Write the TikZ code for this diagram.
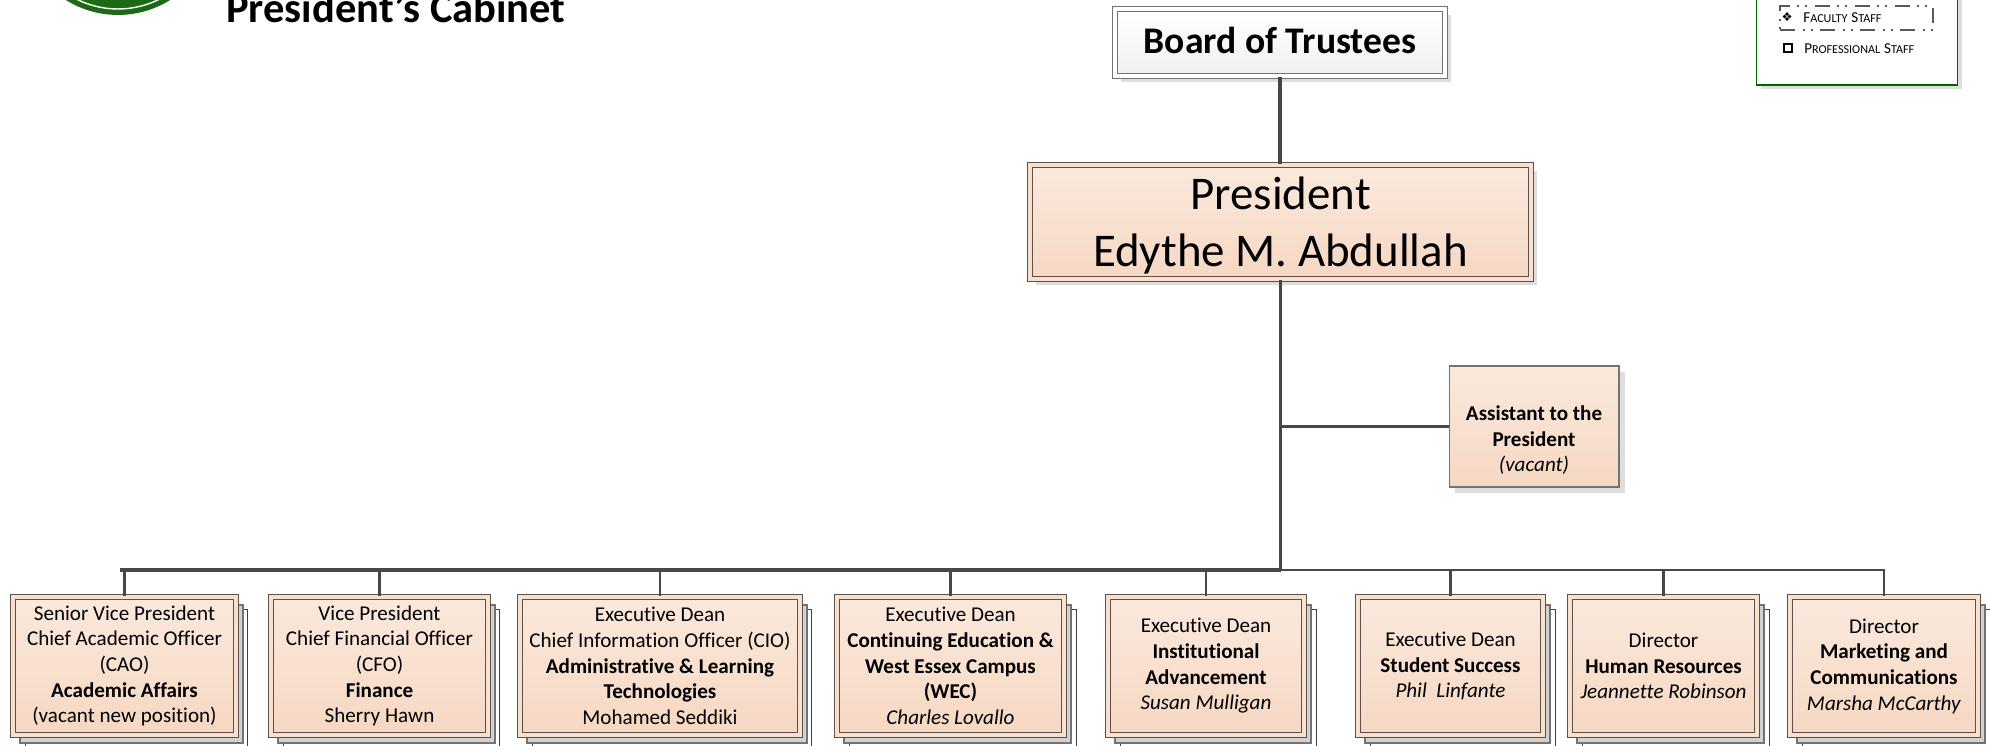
\documentclass[tikz,border=0pt]{standalone}
\usepackage{fontspec}
\setmainfont{Carlito}[Ligatures={ResetAll,NoCommon}]
\usepackage{xcolor}
\usetikzlibrary{shadows,positioning}
\definecolor{unittop}{HTML}{FAE9DD}
\definecolor{unitbot}{HTML}{F6D7C2}
\definecolor{unitline}{HTML}{5F504A}
\definecolor{wirecol}{HTML}{474747}
\definecolor{sealgreen}{HTML}{1C6B14}
\newcommand{\capsmall}[2]{{\fontsize{8.6}{10}\selectfont #1}{\fontsize{6.9}{10}\selectfont #2}}
\tikzset{wire/.style={draw=wirecol,line width=1.5pt}}
\tikzset{mainwire/.style={draw=wirecol,line width=1.9pt}}
\tikzset{softshadow/.style={copy shadow={shadow xshift=3.6pt,shadow yshift=-3.6pt,draw=none,fill=black!13}}}
\tikzset{stacked/.style={copy shadow={shadow xshift=6.8pt,shadow yshift=-6.8pt,draw=black!75,fill=white,line width=0.5pt},
    copy shadow={shadow xshift=4pt,shadow yshift=-4.5pt,draw=black!55,fill=black!18,line width=0.7pt}}}
\tikzset{framed/.style={rectangle,draw=unitline,line width=0.75pt,double=unittop!50!unitbot,double distance=2pt,
    top color=unittop,bottom color=unitbot,align=center,inner sep=0pt}}
\tikzset{unitbox/.style={framed,stacked,minimum height=2.76cm,font=\fontsize{12}{14.6}\selectfont,
    execute at begin node=\rule{0pt}{10.5pt}}}
\tikzset{legendtext/.style={anchor=west,inner sep=0pt}}

\begin{document}
\begin{tikzpicture}[x=0.02cm,y=-0.02cm]
    \useasboundingbox (0,0) rectangle (1990,746);

    % seal and title
    \node[circle,fill=sealgreen,minimum size=3.92cm,inner sep=0pt] (seal) at (118,-83) {};
    \node[circle,draw=white,line width=0.8pt,minimum size=3.68cm,inner sep=0pt] (sealring) at (118,-83) {};
    \node[anchor=base west,inner sep=0pt,font=\fontsize{24.2}{28}\selectfont\bfseries] (title) at (226,23) {President's Cabinet};

    % legend
    \node[draw=green!40!black,fill=white,line width=0.6pt,copy shadow={shadow xshift=2.5pt,shadow yshift=-2.5pt,draw=none,fill=black!13},
        minimum width=4.02cm,minimum height=2.2cm,inner sep=0pt] (legend) at (1857,30) {};
    \node[draw=black!65,line width=0.85pt,dash pattern=on 8.5pt off 4.5pt on 1pt off 3.5pt on 1pt off 4.3pt,
        minimum width=3.06cm,minimum height=0.48cm,inner sep=0pt] (facultybox) at (1856.5,18) {};
    \node[legendtext] (faculty) at (1803,18) {\capsmall{F}{ACULTY} \capsmall{S}{TAFF}};
    \node[legendtext] (professional) at (1804,49) {\capsmall{P}{ROFESSIONAL} \capsmall{S}{TAFF}};
    \node[draw=black,line width=0.9pt,minimum size=0.17cm,inner sep=0pt] (profmark) at (1788,48) {};
    \node[inner sep=0pt,font=\fontsize{7}{8}\selectfont\fontspec{DejaVu Sans}] (facmark) at (1787,17) {❖};

    % upper boxes
    \node[framed,softshadow,draw=black!55,top color=white,bottom color=black!6,double=white,minimum width=6.6cm,minimum height=1.34cm,
        font=\fontsize{21.4}{26}\selectfont\bfseries] (board) at (1280,42.5) {\rule[-2.5pt]{0pt}{1pt}Board of Trustees};
    \node[framed,softshadow,minimum width=10.02cm,minimum height=2.28cm,
        font=\fontsize{26.7}{32.4}\selectfont] (president) at (1280.5,222) {\rule{0pt}{22pt}President\\Edythe M. Abdullah};
    \node[rectangle,draw=black!55,line width=0.6pt,softshadow,top color=unittop,bottom color=unitbot,align=center,inner sep=0pt,
        minimum width=3.4cm,minimum height=2.42cm,font=\fontsize{12}{14.7}\selectfont] (assistant) at (1534,426.5)
        {\rule{0pt}{24pt}\textbf{Assistant to the}\\\textbf{President}\\\textit{(vacant)}};

    % lower row
    \node[unitbox,minimum width=4.46cm] (cao) at (124.5,666) {Senior Vice President\\Chief Academic Officer\\(CAO)\\\textbf{Academic Affairs}\\(vacant new position)};
    \node[unitbox,minimum width=4.34cm] (cfo) at (379.5,666) {Vice President\\Chief Financial Officer\\(CFO)\\\textbf{Finance}\\Sherry Hawn};
    \node[unitbox,minimum width=5.60cm] (cio) at (660,666) {Executive Dean\\Chief Information Officer (CIO)\\\textbf{Administrative \& Learning}\\\textbf{Technologies}\\Mohamed Seddiki};
    \node[unitbox,minimum width=4.54cm] (wec) at (950.5,666) {Executive Dean\\\textbf{Continuing Education \&}\\\textbf{West Essex Campus}\\\textbf{(WEC)}\\\textit{Charles Lovallo}};
    \node[unitbox,minimum width=3.92cm] (advancement) at (1206,666) {Executive Dean\\\textbf{Institutional}\\\textbf{Advancement}\\\textit{Susan Mulligan}};
    \node[unitbox,minimum width=3.70cm] (success) at (1450.5,666) {Executive Dean\\\textbf{Student Success}\\\textit{Phil\ \ Linfante}};
    \node[unitbox,minimum width=3.74cm] (hr) at (1663.5,666) {Director\\\textbf{Human Resources}\\\textit{Jeannette Robinson}};
    \node[unitbox,minimum width=3.76cm] (marketing) at (1884,666) {Director\\\textbf{Marketing and}\\\textbf{Communications}\\\textit{Marsha McCarthy}};

    % connectors
    \coordinate (trunk) at (1280.5,570);
    \coordinate (trunkleft) at (120,570);
    \draw[wire] (marketing.north) |- (trunk);
    \draw[mainwire] (trunk) -- (trunkleft);
    \draw[mainwire] (board.south) -- (board.south |- president.north);
    \draw[mainwire] (president.south) -- (trunk);
    \draw[wire] (assistant.west) -- (assistant.west -| trunk);
    \draw[wire] (cao.north) -- (cao.north |- trunk);
    \draw[wire] (cfo.north) -- (cfo.north |- trunk);
    \draw[wire] (cio.north) -- (cio.north |- trunk);
    \draw[wire] (wec.north) -- (wec.north |- trunk);
    \draw[wire] (advancement.north) -- (advancement.north |- trunk);
    \draw[wire] (success.north) -- (success.north |- trunk);
    \draw[wire] (hr.north) -- (hr.north |- trunk);
\end{tikzpicture}
\end{document}
